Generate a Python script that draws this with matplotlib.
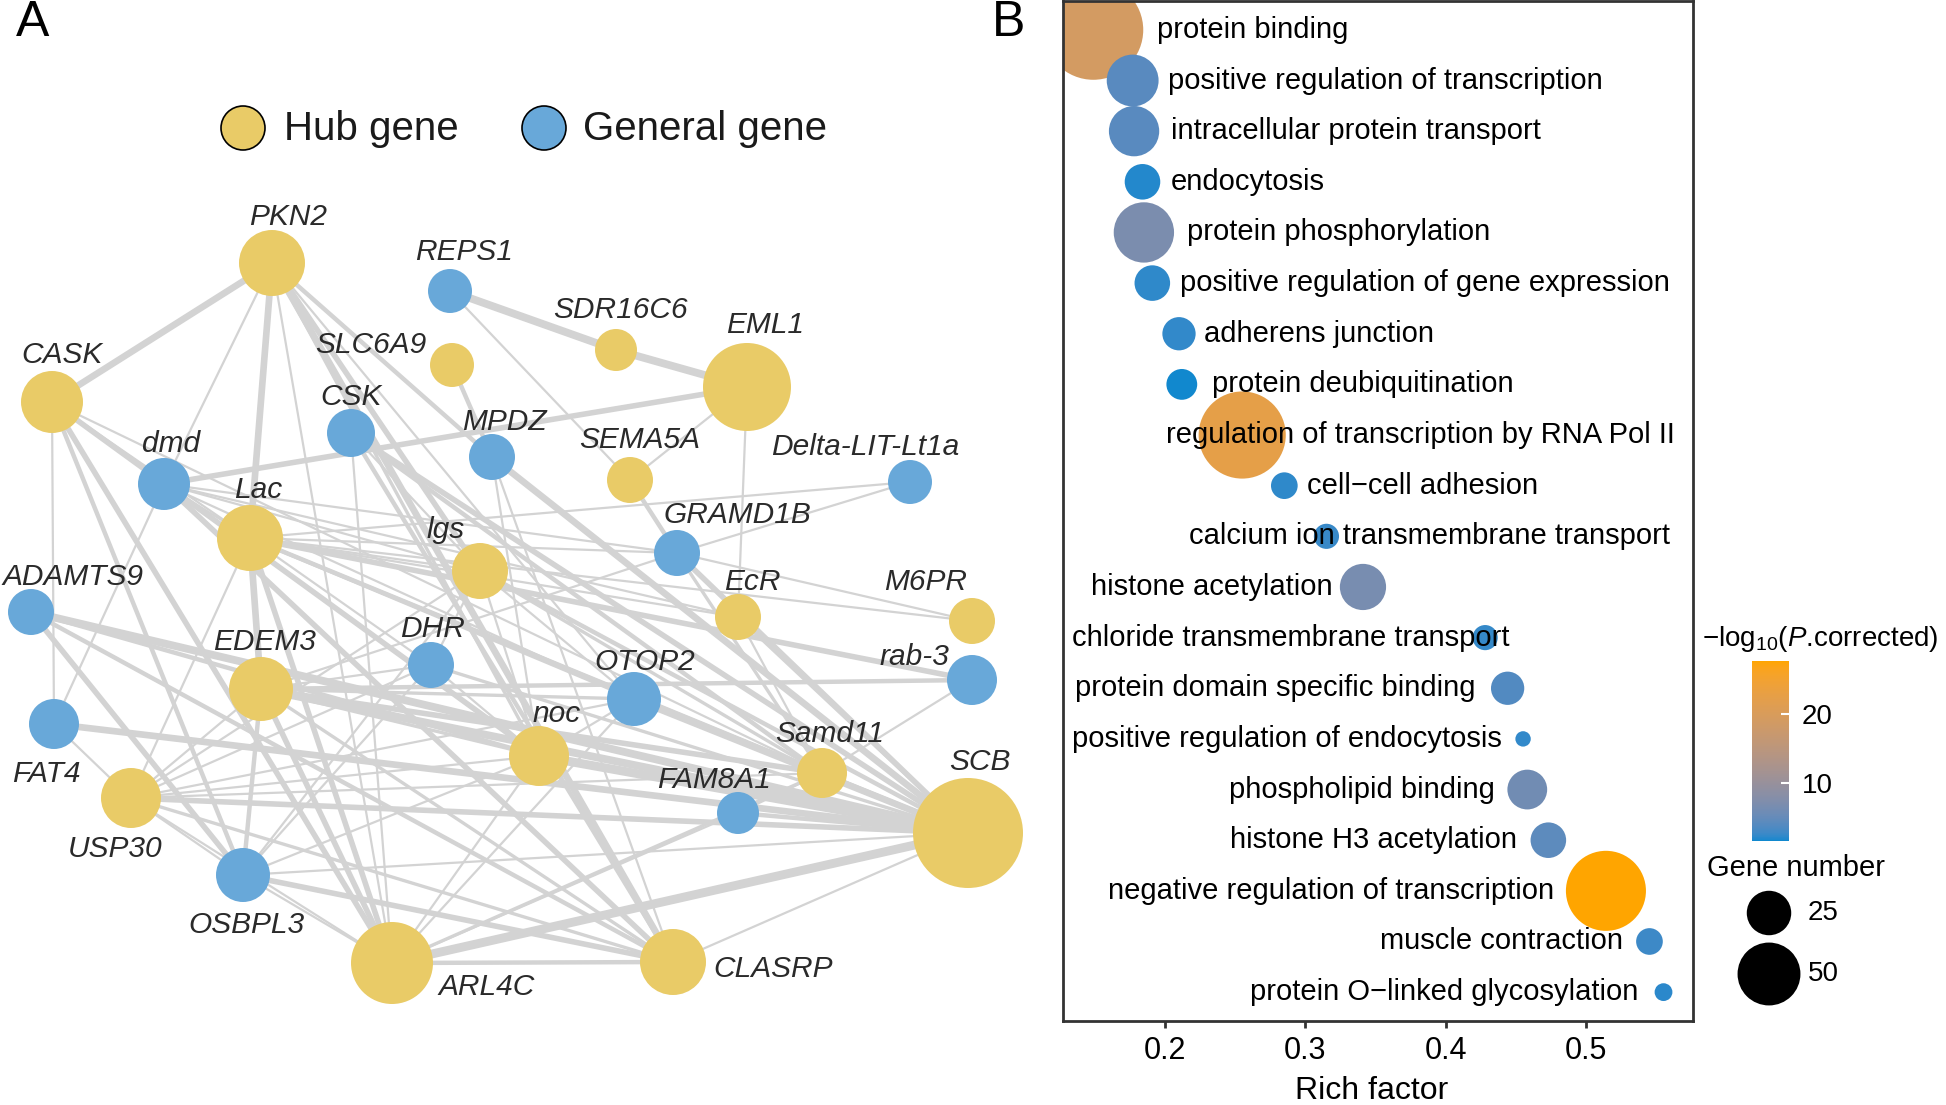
import numpy as np
import matplotlib
matplotlib.use("Agg")
import matplotlib.pyplot as plt
import matplotlib.colors as mcolors
from matplotlib.collections import LineCollection
from matplotlib.cm import ScalarMappable

plt.rcParams['font.family'] = ['Liberation Sans', 'DejaVu Sans']
plt.rcParams['mathtext.fontset'] = 'custom'
plt.rcParams['mathtext.rm'] = 'Liberation Sans'
plt.rcParams['mathtext.it'] = 'Liberation Sans:italic'

# ---------------------------------------------------------------
# Panel A: gene network (layout coordinates, same units as the canvas)
genes = ["PKN2", "REPS1", "SDR16C6", "EML1", "SLC6A9", "CASK", "CSK", "dmd",
         "MPDZ", "SEMA5A", "Delta-LIT-Lt1a", "Lac", "lgs", "GRAMD1B", "ADAMTS9",
         "EcR", "M6PR", "EDEM3", "DHR", "OTOP2", "rab-3", "noc", "Samd11", "SCB",
         "FAT4", "FAM8A1", "USP30", "OSBPL3", "ARL4C", "CLASRP"]
node_x = [272, 450, 616, 747, 452, 52, 351, 164, 492, 630, 910, 250, 480, 677, 31,
          738, 972, 261, 431, 634, 972, 539, 822, 968, 54, 738, 131, 243, 392, 673]
node_y = [263, 291, 350, 387, 365, 402, 433, 484, 457, 480, 482, 538, 571, 553, 612,
          617, 621, 689, 665, 699, 680, 756, 773, 833, 724, 813, 798, 875, 963, 962]
node_r = [33, 22, 21, 44, 22, 31, 24, 26, 23, 23, 22, 33, 28, 23, 23,
          23, 23, 32, 23, 27, 25, 30, 25, 55, 25, 21, 30, 27, 41, 33]
is_hub = [1, 0, 1, 1, 1, 1, 0, 0, 0, 1, 0, 1, 1, 0, 0,
          1, 1, 1, 0, 0, 0, 1, 1, 1, 0, 0, 1, 0, 1, 1]
label_x = [288, 464, 620, 765, 371, 62, 351, 171, 504, 640, 865, 258, 446, 737, 73,
           752, 926, 265, 433, 645, 914, 557, 830, 980, 46, 714, 115, 246, 487, 773]
label_y = [225, 260, 318, 333, 353, 363, 405, 452, 430, 448, 455, 498, 538, 523, 585,
           590, 590, 650, 637, 670, 665, 722, 742, 770, 782, 788, 857, 933, 995, 977]

# (gene, gene, edge width)
edges = [
    ("PKN2", "CASK", 6), ("PKN2", "Lac", 6), ("PKN2", "dmd", 2), ("PKN2", "MPDZ", 4),
    ("PKN2", "CLASRP", 6), ("PKN2", "ARL4C", 2), ("PKN2", "OTOP2", 2), ("PKN2", "lgs", 5),
    ("PKN2", "noc", 3), ("CASK", "dmd", 2), ("CASK", "FAT4", 2), ("CASK", "ARL4C", 5),
    ("CASK", "Lac", 2), ("CASK", "noc", 5), ("CASK", "OSBPL3", 4), ("CASK", "Samd11", 2),
    ("REPS1", "SDR16C6", 7), ("SDR16C6", "EML1", 7), ("REPS1", "SEMA5A", 2),
    ("SLC6A9", "MPDZ", 4), ("dmd", "EML1", 5), ("EML1", "SEMA5A", 2), ("EML1", "EcR", 2),
    ("SEMA5A", "GRAMD1B", 4), ("GRAMD1B", "Delta-LIT-Lt1a", 2), ("Lac", "Delta-LIT-Lt1a", 2),
    ("GRAMD1B", "M6PR", 2), ("Lac", "M6PR", 2), ("Lac", "rab-3", 5), ("EDEM3", "rab-3", 4),
    ("rab-3", "Samd11", 2), ("MPDZ", "SCB", 6), ("MPDZ", "noc", 2), ("MPDZ", "CLASRP", 2),
    ("CSK", "ARL4C", 2), ("CSK", "SCB", 5), ("CSK", "Samd11", 4), ("CSK", "CLASRP", 4),
    ("CSK", "lgs", 2), ("dmd", "Lac", 2), ("dmd", "CLASRP", 5), ("dmd", "lgs", 2),
    ("dmd", "OTOP2", 2), ("dmd", "GRAMD1B", 2), ("dmd", "EcR", 2), ("dmd", "FAT4", 2),
    ("Lac", "EDEM3", 6), ("Lac", "ARL4C", 5), ("Lac", "lgs", 2), ("Lac", "OTOP2", 3),
    ("Lac", "SCB", 4), ("Lac", "Samd11", 3), ("Lac", "DHR", 2), ("Lac", "EcR", 2),
    ("Lac", "USP30", 2), ("Lac", "GRAMD1B", 2), ("lgs", "SCB", 4), ("lgs", "DHR", 2),
    ("lgs", "noc", 2), ("lgs", "OTOP2", 2), ("lgs", "Samd11", 3), ("lgs", "USP30", 2),
    ("lgs", "OSBPL3", 2), ("ADAMTS9", "SCB", 7), ("ADAMTS9", "OSBPL3", 5),
    ("ADAMTS9", "noc", 4), ("ADAMTS9", "CLASRP", 4), ("FAT4", "SCB", 6), ("FAT4", "USP30", 2),
    ("USP30", "SCB", 5), ("USP30", "EDEM3", 2), ("USP30", "DHR", 2), ("USP30", "noc", 2),
    ("USP30", "OTOP2", 2), ("USP30", "OSBPL3", 2), ("USP30", "CLASRP", 3),
    ("USP30", "ARL4C", 2), ("USP30", "Samd11", 2), ("OSBPL3", "EDEM3", 4),
    ("OSBPL3", "CLASRP", 5), ("OSBPL3", "SCB", 2), ("OSBPL3", "ARL4C", 2),
    ("OSBPL3", "DHR", 2), ("OSBPL3", "noc", 2), ("EDEM3", "ARL4C", 5), ("EDEM3", "SCB", 7),
    ("EDEM3", "Samd11", 5), ("EDEM3", "OTOP2", 3), ("EDEM3", "GRAMD1B", 2),
    ("EDEM3", "noc", 3), ("EDEM3", "CLASRP", 3), ("EDEM3", "DHR", 2), ("DHR", "noc", 2),
    ("DHR", "SCB", 3), ("OTOP2", "SCB", 6), ("OTOP2", "noc", 2), ("OTOP2", "ARL4C", 2),
    ("noc", "SCB", 8), ("noc", "ARL4C", 2), ("ARL4C", "SCB", 8), ("ARL4C", "CLASRP", 4),
    ("ARL4C", "FAM8A1", 2), ("ARL4C", "Samd11", 3), ("CLASRP", "SCB", 2),
    ("FAM8A1", "SCB", 4), ("FAM8A1", "Samd11", 2), ("Samd11", "SCB", 3), ("EcR", "SCB", 3),
    ("GRAMD1B", "SCB", 5), ("GRAMD1B", "Samd11", 3), ("EcR", "Samd11", 2),
]

# ---------------------------------------------------------------
# Panel B: GO enrichment bubbles
terms = ["protein binding", "positive regulation of transcription",
         "intracellular protein transport", "endocytosis", "protein phosphorylation",
         "positive regulation of gene expression", "adherens junction",
         "protein deubiquitination", "regulation of transcription by RNA Pol II",
         "cell\u2212cell adhesion", "calcium ion transmembrane transport",
         "histone acetylation", "chloride transmembrane transport",
         "protein domain specific binding", "positive regulation of endocytosis",
         "phospholipid binding", "histone H3 acetylation",
         "negative regulation of transcription", "muscle contraction",
         "protein O\u2212linked glycosylation"]
rich_factor = [0.149, 0.177, 0.178, 0.184, 0.185, 0.191, 0.210, 0.212, 0.255, 0.285,
               0.315, 0.341, 0.428, 0.444, 0.455, 0.458, 0.473, 0.514, 0.545, 0.555]
gene_number = [126, 34, 32, 16, 46, 16, 14, 12, 96, 9, 8, 27, 8, 14, 3, 20, 16, 81, 9, 4]
neglog_p = [19.0, 4.2, 4.2, 2.0, 6.8, 2.3, 2.4, 1.6, 22.5, 2.3, 2.6, 6.6, 2.5, 3.8,
            2.4, 6.0, 4.5, 27.7, 2.8, 2.2]
term_label_x = [0.1943, 0.2021, 0.2043, 0.2043, 0.2157, 0.2107, 0.2278, 0.2335, 0.2007,
                0.3011, 0.2171, 0.3196, 0.1338, 0.1359, 0.1338, 0.4349, 0.4505, 0.4769,
                0.5260, 0.5374]
term_label_ha = ["left"] * 11 + ["right", "left", "left", "left"] + ["right"] * 5
size_breaks = [25, 50]


def hex_to_lab(col):
    rgb = np.array(mcolors.to_rgb(col))
    lin = np.where(rgb <= 0.04045, rgb / 12.92, ((rgb + 0.055) / 1.055) ** 2.4)
    M = np.array([[0.4124, 0.3576, 0.1805], [0.2126, 0.7152, 0.0722], [0.0193, 0.1192, 0.9505]])
    xyz = M @ lin / np.array([0.95047, 1.0, 1.08883])
    f = np.where(xyz > 0.008856, np.cbrt(xyz), 7.787 * xyz + 16 / 116)
    return np.array([116 * f[1] - 16, 500 * (f[0] - f[1]), 200 * (f[1] - f[2])])


def lab_to_rgb(lab):
    fy = (lab[:, 0] + 16) / 116
    f = np.stack([fy + lab[:, 1] / 500, fy, fy - lab[:, 2] / 200], axis=1)
    xyz = np.where(f > 0.2069, f ** 3, (f - 16 / 116) / 7.787) * np.array([0.95047, 1.0, 1.08883])
    Minv = np.array([[3.2406, -1.5372, -0.4986], [-0.9689, 1.8758, 0.0415], [0.0557, -0.2040, 1.0570]])
    lin = np.clip(xyz @ Minv.T, 0, 1)
    return np.where(lin <= 0.0031308, 12.92 * lin, 1.055 * lin ** (1 / 2.4) - 0.055).clip(0, 1)


# ggplot-like gradient (interpolated in Lab)
t = np.linspace(0, 1, 256)[:, None]
lo, hi = hex_to_lab("#1188CE"), hex_to_lab("#FFA500")
cmap = mcolors.ListedColormap(lab_to_rgb(lo + t * (hi - lo)))
norm = mcolors.Normalize(vmin=min(neglog_p), vmax=max(neglog_p))


def px_to_s(r):
    # scatter size (pt^2) for a circle of radius r pixels at 100 dpi
    return (2 * np.asarray(r) * 0.72) ** 2


W, H = 1946, 1105
fig = plt.figure(figsize=(W / 100, H / 100), dpi=100)
canvas = fig.add_axes([0, 0, 1, 1])
canvas.set_xlim(0, W)
canvas.set_ylim(H, 0)
canvas.axis('off')

YELLOW = "#E9CB67"
BLUE = "#68A8D9"
idx = {g: i for i, g in enumerate(genes)}
segs = [[(node_x[idx[a]], node_y[idx[a]]), (node_x[idx[b]], node_y[idx[b]])] for a, b, w in edges]
lws = [w * 0.8 for a, b, w in edges]
canvas.add_collection(LineCollection(segs, linewidths=lws, colors="#D3D3D3", zorder=1,
                                     capstyle='butt'))
node_cols = [YELLOW if h else BLUE for h in is_hub]
canvas.scatter(node_x, node_y, s=px_to_s(node_r), c=node_cols, edgecolors='none', zorder=2)
for g, lx, ly in zip(genes, label_x, label_y):
    canvas.text(lx, ly, g, ha='center', va='baseline', fontsize=21.5, style='italic',
                color='#2A2A2A', zorder=3)

# network legend
canvas.scatter([243, 544], [128, 128], s=px_to_s(22), c=[YELLOW, BLUE],
               edgecolors='black', linewidths=1.2, zorder=3)
canvas.text(284, 129, "Hub gene", fontsize=29, va='center', ha='left', color='#1A1A1A')
canvas.text(583, 129, "General gene", fontsize=29, va='center', ha='left', color='#1A1A1A')

canvas.text(16, 23, "A", fontsize=36, va='center', ha='left')
canvas.text(992, 23, "B", fontsize=36, va='center', ha='left')

# ---------------------------------------------------------------
ax = fig.add_axes([1063 / W, 84 / H, 630 / W, 1020 / H])
rows = np.arange(1, len(terms) + 1)
ax.scatter(rich_factor, rows, s=41 * np.array(gene_number), c=neglog_p, cmap=cmap,
           norm=norm, edgecolors='none', zorder=2)
for tx, yy, lab, ha in zip(term_label_x, rows, terms, term_label_ha):
    ax.text(tx, yy, lab, ha=ha, va='center', fontsize=21, color='black', zorder=3)
ax.set_xlim(0.1274, 0.576)
ax.set_ylim(len(terms) + 0.57, 0.43)
ax.set_yticks([])
ax.set_xticks([0.2, 0.3, 0.4, 0.5])
ax.set_xticklabels(["0.2", "0.3", "0.4", "0.5"])
ax.tick_params(axis='x', length=5, width=2, color='#333333', labelsize=22, pad=6)
for sp in ax.spines.values():
    sp.set_linewidth(2)
    sp.set_color('#333333')
ax.set_xlabel("Rich factor", fontsize=23)
ax.xaxis.set_label_coords(0.49, -0.069)
ax.xaxis.label.set_va('center')

# colour bar
cax = fig.add_axes([1752 / W, (H - 841) / H, 37 / W, 180 / H])
cb = fig.colorbar(ScalarMappable(norm=norm, cmap=cmap), cax=cax)
cb.outline.set_visible(False)
cb.set_ticks([10, 20])
cax.tick_params(direction='in', color='white', length=6, width=1.5, labelsize=20, pad=9)
canvas.text(1702, 639, "\u2212log$_{10}$($\\mathit{P}$.corrected)",
            fontsize=20, va='center', ha='left')

# size legend
canvas.text(1707, 868, "Gene number", fontsize=21, va='center', ha='left')
leg_y = [913, 974]
canvas.scatter([1769, 1769], leg_y, s=41 * np.array(size_breaks), c='black',
               edgecolors='none', zorder=3)
for yy, b in zip(leg_y, size_breaks):
    canvas.text(1808, yy, str(b), fontsize=20, va='center', ha='left')

fig.savefig("out.png", dpi=100, facecolor='white')
